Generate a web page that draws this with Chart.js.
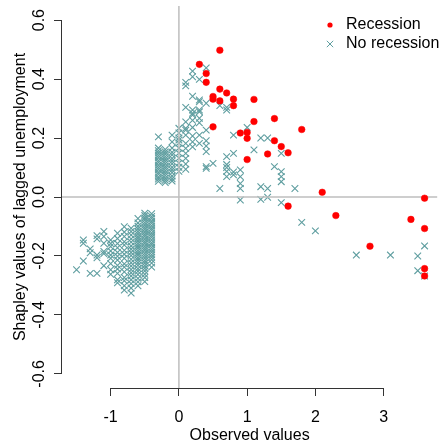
<!DOCTYPE html>
<html>
<head>
<meta charset="utf-8">
<script src="https://cdn.jsdelivr.net/npm/chart.js@4/dist/chart.umd.min.js"></script>
<style>
  html, body { margin: 0; padding: 0; background: #fff; }
</style>
</head>
<body>
<canvas id="c" width="443" height="443"></canvas>
<script>
// axis ticks
const xTicks = [-1, 0, 1, 2, 3];
const yTicks = [-0.6, -0.4, -0.2, 0, 0.2, 0.4, 0.6];

// recession months (observed value, shapley value)
const recX = [0.6, 0.3, 0.4, 0.4, 0.6, 0.7, 0.5, 0.5, 0.6, 0.8, 0.8, 1.1, 0.5, 1.1, 1.4, 1.8, 0.9, 1.0, 1.0, 1.4,
              1.5, 1.6, 1.3, 1.0, 1.6, 2.1, 2.3, 3.6, 3.4, 3.6, 2.8, 3.6, 3.6];
const recY = [0.498, 0.45, 0.419, 0.389, 0.366, 0.353, 0.341, 0.332, 0.326, 0.332, 0.31, 0.331, 0.238, 0.256, 0.266,
              0.229, 0.217, 0.219, 0.199, 0.191, 0.171, 0.15, 0.146, 0.127, -0.031, 0.016, -0.063, -0.004, -0.076,
              -0.107, -0.167, -0.243, -0.268];

// no-recession months, grouped by observed value
const noRecCols = [-1.5, -1.4, -1.3, -1.2, -1.1, -1.0, -0.9, -0.8, -0.7, -0.6, -0.5, -0.4, -0.3, -0.2, -0.1,
                   0.0, 0.1, 0.2, 0.3, 0.4, 0.5, 0.6, 0.7, 0.8, 0.9, 1.0, 1.1, 1.2, 1.3, 1.4, 1.5, 1.7, 1.8, 2.0,
                   2.6, 3.1, 3.5, 3.6];
const noRecYs = [
  [-0.247],
  [-0.146, -0.157, -0.217],
  [-0.176, -0.189, -0.259],
  [-0.131, -0.142, -0.197, -0.206, -0.259],
  [-0.117, -0.134, -0.157, -0.185, -0.192, -0.233],
  [-0.146, -0.158, -0.168, -0.183, -0.197, -0.208, -0.226, -0.247, -0.262],
  [-0.123, -0.141, -0.158, -0.172, -0.188, -0.201, -0.214, -0.232, -0.244, -0.259, -0.281, -0.291],
  [-0.101, -0.119, -0.134, -0.152, -0.163, -0.181, -0.194, -0.208, -0.227, -0.238, -0.254, -0.273, -0.284, -0.301, -0.316],
  [-0.106, -0.117, -0.129, -0.142, -0.153, -0.166, -0.177, -0.188, -0.199, -0.211, -0.223, -0.234, -0.246, -0.257,
   -0.268, -0.281, -0.294, -0.309, -0.326],
  [-0.073, -0.088, -0.099, -0.108, -0.117, -0.125, -0.134, -0.141, -0.149, -0.158, -0.166, -0.173, -0.182, -0.19,
   -0.197, -0.206, -0.214, -0.223, -0.232, -0.243, -0.252, -0.263, -0.276, -0.288, -0.301],
  [-0.055, -0.063, -0.071, -0.078, -0.087, -0.095, -0.103, -0.11, -0.119, -0.127, -0.134, -0.143, -0.151, -0.158,
   -0.167, -0.175, -0.182, -0.191, -0.199, -0.207, -0.216, -0.224, -0.233, -0.242, -0.251, -0.262, -0.273, -0.287],
  [-0.057, -0.066, -0.073, -0.082, -0.089, -0.098, -0.106, -0.113, -0.122, -0.13, -0.137, -0.146, -0.155, -0.162,
   -0.171, -0.179, -0.187, -0.196, -0.204, -0.213, -0.224, -0.238],
  [0.204, 0.166, 0.157, 0.149, 0.141, 0.133, 0.124, 0.117, 0.108, 0.1, 0.093, 0.084, 0.077, 0.068, 0.061, 0.053],
  [0.161, 0.153, 0.146, 0.137, 0.129, 0.121, 0.113, 0.104, 0.097, 0.089, 0.081, 0.073, 0.064, 0.057, 0.049],
  [0.21, 0.187, 0.166, 0.152, 0.143, 0.131, 0.122, 0.113, 0.101, 0.092, 0.083, 0.071, 0.062, 0.054],
  [0.233, 0.217, 0.2, 0.193, 0.183, 0.166, 0.149, 0.132, 0.115, 0.101, 0.087],
  [0.389, 0.377, 0.304, 0.255, 0.233, 0.227, 0.21, 0.182, 0.165, 0.148, 0.131, 0.112, 0.094],
  [0.427, 0.408, 0.342, 0.295, 0.284, 0.278, 0.26, 0.236, 0.207, 0.187, 0.17],
  [0.399, 0.329, 0.323, 0.295, 0.289, 0.267, 0.252, 0.21, 0.182],
  [0.438, 0.318, 0.227, 0.191, 0.173, 0.154, 0.103, 0.097],
  [0.114],
  [0.31, 0.029],
  [0.304, 0.295, 0.137, 0.11, 0.1, 0.087, 0.069],
  [0.21, 0.148, 0.085, 0.075],
  [0.092, 0.069, 0.046, 0.029, -0.01],
  [0.236],
  [0.16],
  [0.2, 0.035, -0.008],
  [0.2, 0.029, -0.001],
  [0.103],
  [0.148, 0.086, 0.069, 0.052, -0.019],
  [0.029],
  [-0.086],
  [-0.115],
  [-0.197],
  [-0.197],
  [-0.2, -0.25],
  [-0.166, -0.268]
];

const RED = '#ff0000';
const TEAL = '#5f9ea0';
const FONT = '"Liberation Sans", Arial, Helvetica, sans-serif';

Chart.defaults.font.family = FONT;
Chart.defaults.font.size = 16;
Chart.defaults.color = '#000';

const recPts = recX.map((x, i) => ({ x: x, y: recY[i] }));
const noRecPts = [];
noRecCols.forEach((x, i) => noRecYs[i].forEach(y => noRecPts.push({ x: x, y: y })));

// grey reference lines at zero, drawn over the crosses but under the red dots
const zeroLines = {
  id: 'zeroLines',
  afterDatasetDraw(chart, args) {
    if (args.index !== 1) return;
    const { ctx, chartArea, scales: { x, y } } = chart;
    const x0 = x.getPixelForValue(0), y0 = y.getPixelForValue(0);
    ctx.save();
    ctx.strokeStyle = '#bebebe';
    ctx.lineWidth = 1.5;
    ctx.beginPath();
    ctx.moveTo(chartArea.left, y0); ctx.lineTo(chartArea.right, y0);
    ctx.moveTo(x0, chartArea.top); ctx.lineTo(x0, chartArea.bottom);
    ctx.stroke();
    ctx.restore();
  }
};

// R style axis lines: only from first to last tick
const axisLines = {
  id: 'axisLines',
  afterDraw(chart) {
    const { ctx, chartArea, scales: { x, y } } = chart;
    const yb = Math.round(chartArea.bottom) + 0.5;
    const xl = Math.round(chartArea.left) - 0.5;
    ctx.save();
    ctx.strokeStyle = '#333';
    ctx.lineWidth = 1;
    ctx.beginPath();
    ctx.moveTo(x.getPixelForValue(xTicks[0]), yb);
    ctx.lineTo(x.getPixelForValue(xTicks[xTicks.length - 1]), yb);
    ctx.moveTo(xl, y.getPixelForValue(yTicks[0]));
    ctx.lineTo(xl, y.getPixelForValue(yTicks[yTicks.length - 1]));
    ctx.stroke();
    ctx.restore();
  }
};

// legend in the top right corner of the plot, no box
const cornerLegend = {
  id: 'cornerLegend',
  afterDraw(chart) {
    const { ctx } = chart;
    const lx = 330, ty = 25, gap = 19;
    ctx.save();
    ctx.font = '16px ' + FONT;
    ctx.textBaseline = 'middle';
    ctx.textAlign = 'left';
    chart.data.datasets.forEach((ds, i) => {
      const cy = ty + i * gap;
      ctx.fillStyle = ds.pointBackgroundColor;
      ctx.strokeStyle = ds.pointBorderColor;
      ctx.lineWidth = 1;
      if (ds.pointStyle === 'circle') {
        ctx.beginPath(); ctx.arc(lx, cy, 2.6, 0, Math.PI * 2); ctx.fill();
      } else {
        ctx.beginPath();
        ctx.moveTo(lx - 3.2, cy - 3.2); ctx.lineTo(lx + 3.2, cy + 3.2);
        ctx.moveTo(lx - 3.2, cy + 3.2); ctx.lineTo(lx + 3.2, cy - 3.2);
        ctx.stroke();
      }
      ctx.fillStyle = '#000';
      ctx.fillText(ds.label, lx + 16, cy);
    });
    ctx.restore();
  }
};

new Chart(document.getElementById('c'), {
  type: 'scatter',
  data: {
    datasets: [{
      label: 'Recession',
      data: recPts,
      pointStyle: 'circle',
      pointRadius: 3.3,
      pointBackgroundColor: RED,
      pointBorderColor: RED,
      pointBorderWidth: 0.5
    }, {
      label: 'No recession',
      data: noRecPts,
      pointStyle: 'crossRot',
      pointRadius: 4.7,
      pointBackgroundColor: TEAL,
      pointBorderColor: TEAL,
      pointBorderWidth: 1.1
    }]
  },
  options: {
    responsive: false,
    animation: false,
    devicePixelRatio: 1,
    events: [],
    layout: { padding: { top: 6, right: 0, bottom: 0, left: 0 } },
    plugins: { legend: { display: false }, tooltip: { enabled: false } },
    scales: {
      x: {
        type: 'linear',
        min: -1.713,
        max: 3.785,
        border: { display: false },
        grid: { drawOnChartArea: false, drawTicks: true, tickLength: 8, tickColor: '#333', lineWidth: 1 },
        afterBuildTicks: s => { s.ticks = xTicks.map(v => ({ value: v })); },
        afterFit: s => { s.height = 55; s.paddingLeft = 0; s.paddingRight = 0; },
        ticks: { autoSkip: false, maxRotation: 0, padding: 12, color: '#000', callback: v => String(v) },
        title: { display: true, text: 'Observed values', color: '#000',
                 font: { size: 16, lineHeight: 0.875 }, padding: { top: 0, bottom: 0 } }
      },
      y: {
        type: 'linear',
        min: -0.648,
        max: 0.648,
        border: { display: false },
        grid: { drawOnChartArea: false, drawTicks: true, tickLength: 8, tickColor: '#333', lineWidth: 1 },
        afterBuildTicks: s => { s.ticks = yTicks.map(v => ({ value: v })); },
        afterFit: s => { s.width = 62; s.paddingTop = 0; s.paddingBottom = 0; },
        ticks: { autoSkip: false, minRotation: 90, maxRotation: 90, crossAlign: 'center', padding: 1,
                 color: '#000', callback: v => v.toFixed(1) },
        title: { display: true, text: 'Shapley values of lagged unemployment', color: '#000',
                 font: { size: 16 }, padding: { top: 11, bottom: 0 } }
      }
    }
  },
  plugins: [zeroLines, axisLines, cornerLegend]
});
</script>
</body>
</html>
